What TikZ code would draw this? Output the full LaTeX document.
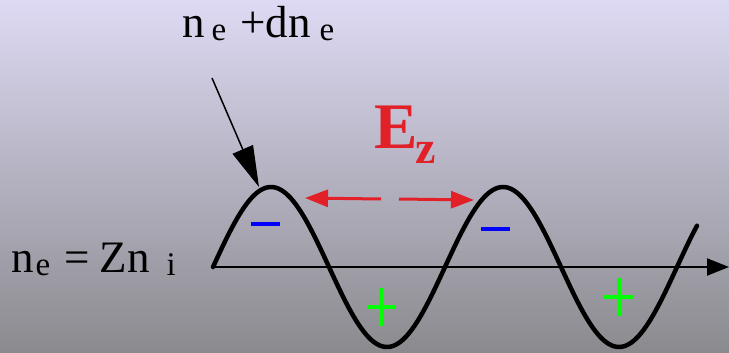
\documentclass[tikz,border=0pt]{standalone}
\usepackage{fontspec}
\setmainfont{Liberation Serif}
\usetikzlibrary{arrows.meta}
\definecolor{bgtop}{RGB}{222,218,244}
\definecolor{bgbot}{RGB}{138,138,142}
\definecolor{ezred}{RGB}{226,32,40}
\newcommand{\mysub}[1]{\raisebox{-3pt}{\fontsize{33}{33}\selectfont #1}}
\tikzset{
  lbl/.style={anchor=base west, inner sep=0pt, font=\fontsize{45}{45}\selectfont},
  wave/.style={line width=4.5pt, line cap=round, line join=round},
  redarrow/.style={draw=ezred, line width=3pt, -{Triangle[length=23pt, width=17pt]}},
  minusbar/.style={blue, line width=4.5pt},
  plusbar/.style={green, line width=4.5pt},
}
\begin{document}
\begin{tikzpicture}[x=1pt, y=-1pt]
  \useasboundingbox (0,0) rectangle (729,353);
  \shade[top color=bgtop, bottom color=bgbot] (0,0) rectangle (729,353);
  % axis
  \coordinate (ax0) at (213,267);
  \coordinate (ax1) at (729,267);
  \draw[line width=2.2pt, -{Triangle[length=22pt, width=17pt]}] (ax0) -- (ax1);
  % wave
  \draw[wave] plot[domain=213:697, samples=200] (\x, {267-80*sin((\x-213)/232*360)});
  \coordinate (peak1) at (259,187);
  \coordinate (astart) at (212,78);
  \draw[line width=1.5pt, -{Triangle[length=41pt, width=22pt]}] (astart) -- (peak1);
  % E field arrows
  \coordinate (la) at (381,199);
  \coordinate (lb) at (305,198);
  \coordinate (ra) at (399,199);
  \coordinate (rb) at (474,200);
  \draw[redarrow] (la) -- (lb);
  \draw[redarrow] (ra) -- (rb);
  \node[anchor=base west, inner sep=0pt, text=ezred, font=\fontsize{65}{65}\selectfont\bfseries] (Ez) at (374,148)
    {E\hspace{-2pt}\raisebox{-15pt}{\fontsize{46}{46}\selectfont z}};
  % charges
  \draw[minusbar] (251,224) -- (280,224);
  \draw[minusbar] (481,229) -- (510,229);
  \draw[plusbar] (367,307) -- (395,307);
  \draw[plusbar] (381,288) -- (381,326);
  \draw[plusbar] (604,297) -- (633,297);
  \draw[plusbar] (619,278) -- (619,316);
  % labels
  \node[lbl] (top) at (182,38) {n\hspace{7pt}\mysub{e}\hspace{14pt}+dn\hspace{9pt}\mysub{e}};
  \node[lbl] (left) at (11,272) {n\hspace{2pt}\mysub{e}\hspace{14pt}=\hspace{10pt}Zn\hspace{17pt}\mysub{i}};
\end{tikzpicture}
\end{document}
